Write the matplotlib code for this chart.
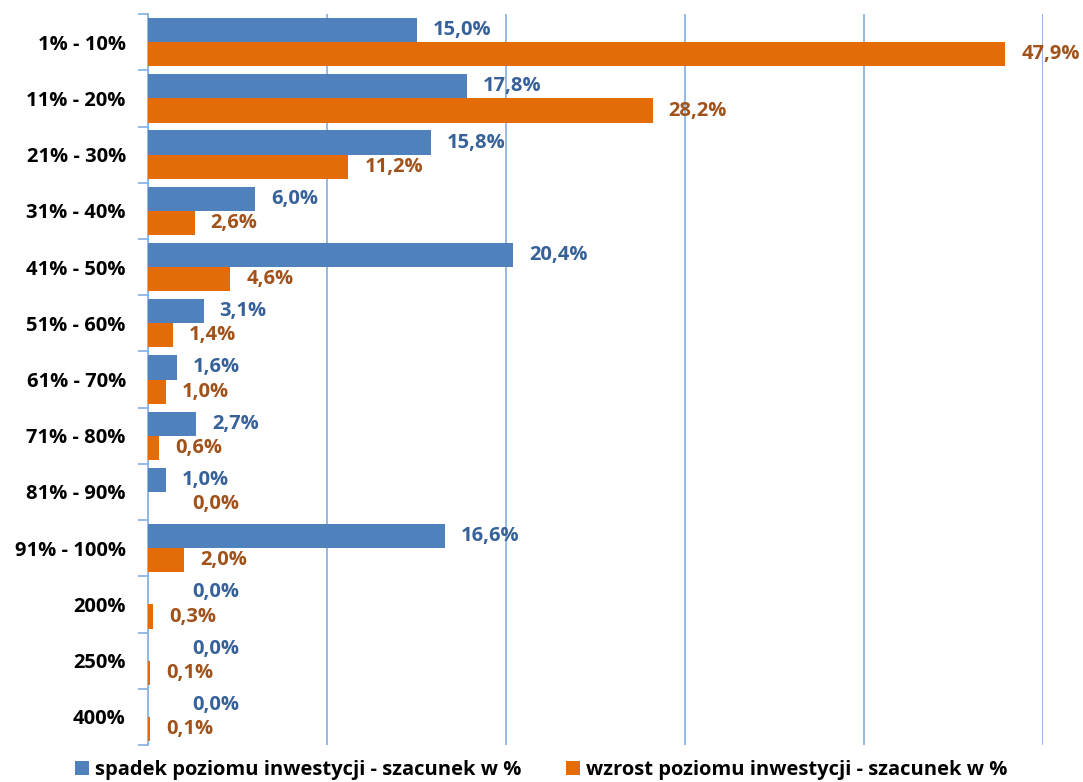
import numpy as np
import matplotlib
matplotlib.use("Agg")
import matplotlib.pyplot as plt
from matplotlib.ticker import FixedLocator

categories = ["1% - 10%", "11% - 20%", "21% - 30%", "31% - 40%", "41% - 50%",
              "51% - 60%", "61% - 70%", "71% - 80%", "81% - 90%", "91% - 100%",
              "200%", "250%", "400%"]
spadek = [15.0, 17.8, 15.8, 6.0, 20.4, 3.1, 1.6, 2.7, 1.0, 16.6, 0.0, 0.0, 0.0]
wzrost = [47.9, 28.2, 11.2, 2.6, 4.6, 1.4, 1.0, 0.6, 0.0, 2.0, 0.3, 0.1, 0.1]
series_names = ["spadek poziomu inwestycji - szacunek w %",
                "wzrost poziomu inwestycji - szacunek w %"]

BLUE, ORANGE = "#4F81BD", "#E36C09"
BLUE_TXT, ORANGE_TXT = "#376299", "#A0521A"
GRID = "#8EB4E3"

plt.rcParams["font.family"] = ["Open Sans", "DejaVu Sans"]

fig = plt.figure(figsize=(10.83, 7.82), dpi=100)
ax = fig.add_axes([0.1367, 0.0473, 0.963 - 0.1367, 0.982 - 0.0473])

y = np.arange(len(categories))
h = 0.43
b1 = ax.barh(y - h / 2, spadek, height=h, color=BLUE, label=series_names[0], zorder=3)
b2 = ax.barh(y + h / 2, wzrost, height=h, color=ORANGE, label=series_names[1], zorder=3)

def fmt(v):
    return f"{v:.1f}%".replace(".", ",")

for bars, vals, col in ((b1, spadek, BLUE_TXT), (b2, wzrost, ORANGE_TXT)):
    for bar, v in zip(bars, vals):
        off = 16 if v > 0 else 44
        ax.annotate(fmt(v), (v, bar.get_y() + bar.get_height() / 2),
                    xytext=(off * 0.72, 0), textcoords="offset points",
                    ha="left", va="center", color=col, fontsize=14.5,
                    fontweight="bold", zorder=4)

ax.set_xlim(0, 50)
ax.set_ylim(len(categories) - 0.5, -0.5)
ax.set_xticks([0, 10, 20, 30, 40, 50])
ax.set_xticklabels([])
ax.tick_params(axis="x", length=0)
ax.grid(axis="x", color=GRID, linewidth=1.3, zorder=0)

ax.set_yticks(y)
ax.set_yticklabels(categories, fontsize=14.5, fontweight="bold")
ax.tick_params(axis="y", which="major", length=0, pad=16)
ax.yaxis.set_minor_locator(FixedLocator(np.arange(len(categories) + 1) - 0.5))
ax.tick_params(axis="y", which="minor", length=7, color=GRID, width=1.3)

for s in ("top", "right", "bottom"):
    ax.spines[s].set_visible(False)
ax.spines["left"].set_color(GRID)
ax.spines["left"].set_linewidth(1.3)

fig.legend(loc="center", bbox_to_anchor=(0.5, 0.0153), ncol=2, frameon=False,
           handlelength=0.7, handleheight=0.7, handletextpad=0.3, columnspacing=2.2,
           prop={"size": 14.5, "weight": "bold"})

fig.savefig("out.png", dpi=100)
